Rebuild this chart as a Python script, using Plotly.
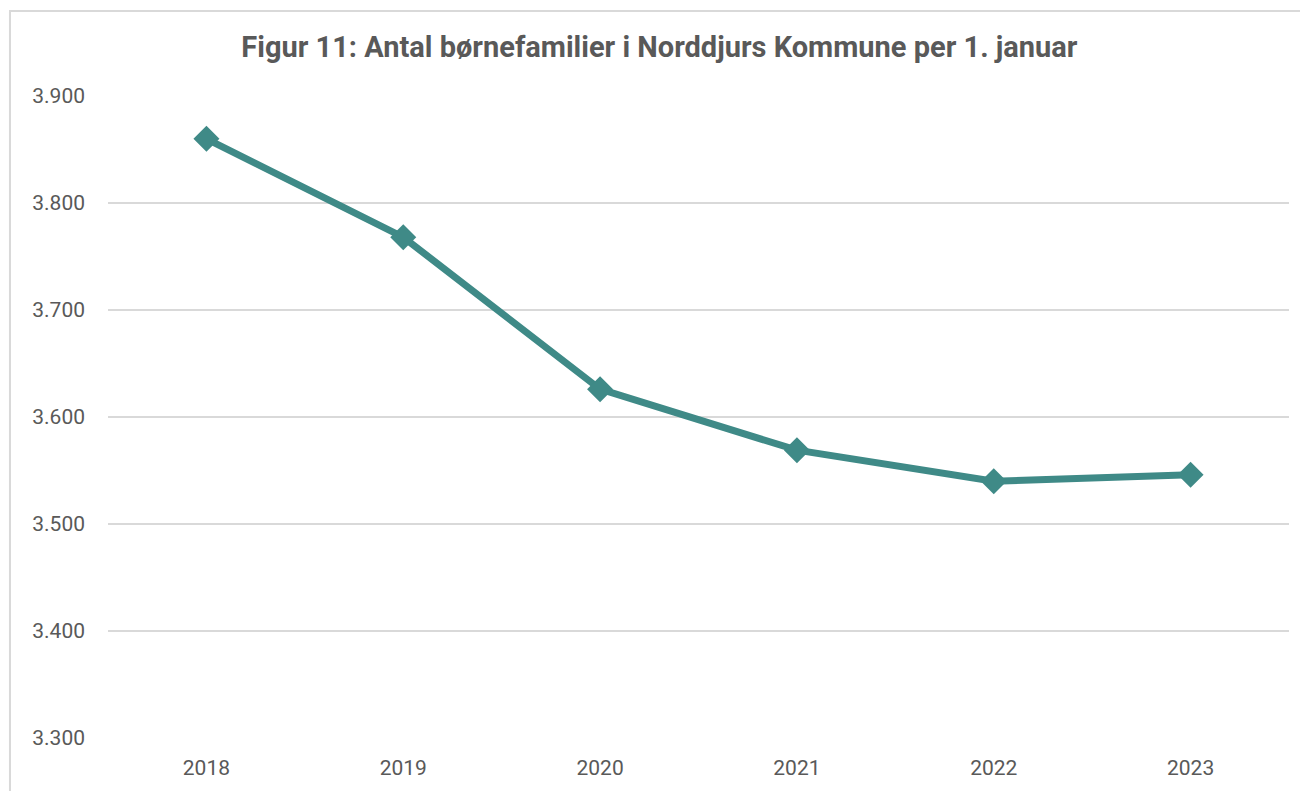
import plotly.graph_objects as go

# Antal børnefamilier per 1. januar
years = ['2018', '2019', '2020', '2021', '2022', '2023']
families = [3860, 3768, 3626, 3569, 3540, 3546]
y_ticks = [3300, 3400, 3500, 3600, 3700, 3800, 3900]

colors = {
    'line': '#3F8A87',
    'text': '#595959',
    'grid': '#D9D9D9',
    'border': '#D9D9D9',
}

fig = go.Figure(data=[go.Scatter(
    x=years,
    y=families,
    mode='lines+markers',
    line=dict(color=colors['line'], width=7),
    marker=dict(symbol='diamond', size=20, color=colors['line']),
    showlegend=False,
)])

fig.update_layout(
    title={'text': '<b>Figur 11: Antal børnefamilier i Norddjurs Kommune per 1. januar</b>',
           'x': 0.498, 'xref': 'container', 'y': 0.951, 'xanchor': 'center', 'yanchor': 'middle',
           'font': dict(family='Roboto', size=29, color=colors['text'])},
    width=1308, height=791,
    margin=dict(l=100, r=27, t=88, b=61),
    plot_bgcolor='#FFFFFF',
    paper_bgcolor='#FFFFFF',
    separators=',.',
    font=dict(family='Roboto', size=21, color=colors['text']),
    xaxis=dict(type='category', range=[-0.5, 5.5], showgrid=False, zeroline=False,
               showline=False, ticks='', ticklabelstandoff=15),
    yaxis=dict(range=[3300, 3900], tickvals=y_ticks, tickformat=',d',
               gridcolor=colors['grid'], gridwidth=2, zeroline=False,
               showline=False, ticks='', ticklabelstandoff=22),
    # thin grey frame around the chart
    shapes=[dict(type='rect', xref='paper', yref='paper',
                 x0=-0.083, x1=1.06, y0=-0.1, y1=1.1324,
                 line=dict(color=colors['border'], width=2), layer='below')],
)

fig.write_html("out.html")
